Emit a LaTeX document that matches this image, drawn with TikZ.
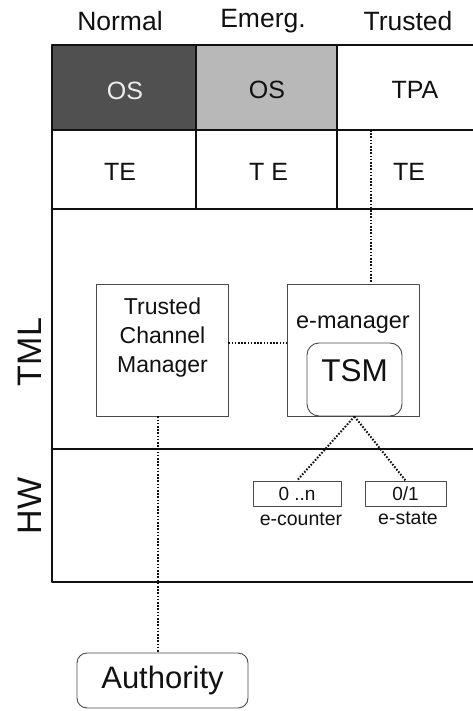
\documentclass[tikz,border=0pt]{standalone}
\usepackage{fontspec}
\setmainfont{Liberation Sans}
\usetikzlibrary{positioning}
\definecolor{OSDark}{HTML}{505050}
\definecolor{OSGray}{HTML}{B8B8B8}
\definecolor{BoxGray}{HTML}{4A4A4A}
\definecolor{InkBlack}{HTML}{111111}

\begin{document}
\begin{tikzpicture}[x=1pt,y=-1pt,line join=round,
  grid/.style={draw=InkBlack,line width=1.8pt},
  box/.style={draw=BoxGray,line width=0.9pt,inner sep=0pt},
  link/.style={draw=InkBlack,line width=2pt,dash pattern=on 1.6pt off 1.6pt},
  cell/.style={text=InkBlack,font=\fontsize{25}{30}\selectfont},
  layer/.style={text=InkBlack,font=\fontsize{34}{40}\selectfont,rotate=90}]
  \useasboundingbox (0,0) rectangle (472,711);
  % operating system cells
  \fill[OSDark] (52,45) rectangle (196,130);
  \fill[OSGray] (196,45) rectangle (337,130);
  % frame of the layers
  \draw[grid] (474,45) -- (52,45) -- (52,582) -- (474,582);
  \draw[grid] (52,130) -- (474,130);
  \draw[grid] (52,209) -- (474,209);
  \draw[grid] (52,449) -- (474,449);
  \draw[grid] (196,45) -- (196,209);
  \draw[grid] (337,45) -- (337,209);
  % column heads
  \node[cell,font=\fontsize{26.5}{30}\selectfont] (hnormal) at (120,21) {Normal};
  \node[cell,font=\fontsize{26.5}{30}\selectfont] (hemerg) at (263,21) {Emerg.};
  \node[cell,font=\fontsize{26.5}{30}\selectfont] (htrusted) at (408,21) {Trusted};
  \node[cell,text=white!93!black] (osnormal) at (125,91) {OS};
  \node[cell] (osemerg) at (267,90) {OS};
  \node[cell] (tpa) at (415,90) {TPA};
  \node[cell] (tenormal) at (120,172) {TE};
  \node[cell] (teemerg) at (268.5,172) {T E};
  \node[cell] (tetrusted) at (409,172) {TE};
  % layer names
  \node[layer] (tml) at (30,352) {TML};
  \node[layer] (hw) at (30,506) {HW};
  % TML components
  \node[box,minimum width=132pt,minimum height=132pt] (tcm) at (162,350) {};
  \node[cell,align=center,font=\fontsize{23}{29}\selectfont] (tcmtext) at (162.5,338) {Trusted\\Channel\\Manager};
  \node[box,minimum width=132pt,minimum height=132pt] (emgr) at (353,350) {};
  \node[cell,font=\fontsize{23.5}{28}\selectfont] (emgrtext) at (353,325) {e-manager};
  \node[box,rounded corners=12pt,minimum width=95pt,minimum height=73pt] (tsm) at (354.5,379.5) {};
  \node[cell,font=\fontsize{31.5}{36}\selectfont] (tsmtext) at (354.5,371) {TSM};
  % HW registers
  \node[box,minimum width=88pt,minimum height=25pt,cell,font=\fontsize{19}{22}\selectfont] (ecnt) at (297,493.5) {0 ..n};
  \node[box,minimum width=81pt,minimum height=25pt,cell,font=\fontsize{19}{22}\selectfont] (est) at (405.5,493.5) {0/1};
  \node[cell,font=\fontsize{19.5}{22}\selectfont] (ecnttext) at (301,519) {e-counter};
  \node[cell,font=\fontsize{19.5}{22}\selectfont] (esttext) at (408,518) {e-state};
  % external party
  \node[box,rounded corners=10pt,minimum width=171pt,minimum height=55pt,cell,font=\fontsize{31}{36}\selectfont] (auth) at (162.5,680.5) {Authority};
  % dotted links
  \coordinate (tpalink) at (371,130);
  \draw[link] (tpalink) -- (tpalink |- emgr.north);
  \draw[link] (tcm.6) -- (emgr.174);
  \draw[link] ([xshift=-4pt]tcm.south) -- ([xshift=-4pt]tcm.south |- auth.north);
  \draw[link] (tsm.south) -- (ecnt.north);
  \draw[link] (tsm.south) -- (est.north);
\end{tikzpicture}
\end{document}
